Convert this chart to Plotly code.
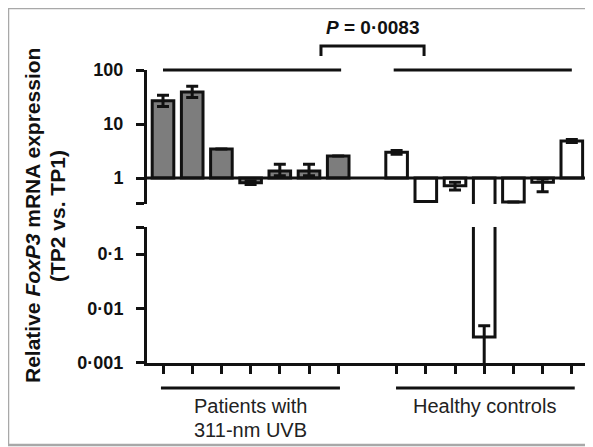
import plotly.graph_objects as go

# ---------------- data ----------------
patients = [27, 39, 3.45, 0.82, 1.35, 1.35, 2.55]
patients_err_plus = [7, 11, 0, 0.06, 0.45, 0.45, 0]
patients_err_minus = [6, 8, 0, 0.06, 0.25, 0.25, 0]

controls = [3.0, 0.37, 0.72, 0.003, 0.36, 0.84, 4.85]
controls_err_plus = [0.25, 0, 0.12, 0.0018, 0, 0.12, 0.3]
controls_err_minus = [0.25, 0, 0.12, 0.0029, 0, 0.28, 0.3]

group_labels = ["Patients with", "311-nm UVB", "Healthy controls"]
upper_ticks = [1, 10, 100]
upper_ticktext = ["1", "10", "100"]
lower_ticks = [0.001, 0.01, 0.1]
lower_ticktext = ["0·001", "0·01", "0·1"]
p_text = "<i>P</i> = 0·0083"
y_title_1 = "Relative <i>FoxP3</i> mRNA expression"
y_title_2 = "(TP2 vs. TP1)"

# positions (categories) : patients 0..6, gap, controls 8..14
x_pat = list(range(len(patients)))
x_hc = [len(patients) + 1 + i for i in range(len(controls))]

# ---------------- layout geometry ----------------
OFF = 8                      # default page body margin
W, H = 593 - OFF, 447 - OFF
ML, MT = 147 - OFF, 70 - OFF
MR = W - (587 - OFF)
MB = H - (363 - OFF)
PW, PH = W - ML - MR, H - MT - MB

def px_x(px):               # page pixel -> paper coordinate
    return (px - OFF - ML) / PW

def px_y(py):
    return (H - MB - (py - OFF)) / PH

FONT = "Liberation Sans, Arial, Helvetica, sans-serif"
BLACK = "#111111"
GREY = "#7d7d7d"
LW = 3

up_lo, up_hi = -0.48, 2.0     # upper axis: log10 range, top = 100
lo_lo, lo_hi = -3.0, -0.5

fig = go.Figure()

def add_bars(xs, vals, ep, em, fill, yaxis):
    fig.add_trace(go.Bar(
        x=xs, y=[v - 1 for v in vals], base=[1] * len(vals),
        width=0.74, marker=dict(color=fill, line=dict(color=BLACK, width=3)),
        error_y=dict(type="data", array=ep, arrayminus=em, symmetric=False,
                     color=BLACK, thickness=3, width=6),
        yaxis=yaxis, xaxis="x", showlegend=False, hoverinfo="skip"))

for ya in ["y", "y2"]:
    add_bars(x_pat, patients, patients_err_plus, patients_err_minus, GREY, ya)
    add_bars(x_hc, controls, controls_err_plus, controls_err_minus, "white", ya)

xr = [-0.548, 14.52]
# baseline at 1
fig.add_trace(go.Scatter(x=xr, y=[1, 1], mode="lines", line=dict(color=BLACK, width=LW),
                         yaxis="y", xaxis="x", showlegend=False, hoverinfo="skip"))

tickfont = dict(size=18, family=FONT, color=BLACK, weight="bold")
fig.update_layout(
    width=W, height=H,
    margin=dict(l=ML, r=MR, t=MT, b=MB, pad=0, autoexpand=False),
    paper_bgcolor="white", plot_bgcolor="white",
    font=dict(family=FONT, color=BLACK),
    xaxis=dict(range=xr, anchor="y2", showgrid=False, zeroline=False,
               showline=True, linecolor=BLACK, linewidth=LW,
               tickvals=x_pat + x_hc, ticktext=[""] * (len(x_pat) + len(x_hc)),
               ticks="outside", ticklen=8, tickwidth=LW, tickcolor=BLACK),
    yaxis=dict(type="log", range=[up_lo, up_hi], domain=[px_y(204), 1], anchor="x",
               showgrid=False, zeroline=False, showline=True, linecolor=BLACK, linewidth=LW,
               tickvals=[10 ** (up_lo + 0.002)] + upper_ticks,
               ticktext=[""] + upper_ticktext,
               ticks="outside", ticklen=8, tickwidth=LW, tickcolor=BLACK,
               ticklabelstandoff=9, tickfont=tickfont),
    yaxis2=dict(type="log", range=[lo_lo - 0.002, lo_hi], domain=[0, px_y(227)], anchor="x",
                showgrid=False, zeroline=False, showline=True, linecolor=BLACK, linewidth=LW,
                tickvals=lower_ticks + [10 ** (lo_hi - 0.002)],
                ticktext=lower_ticktext + [""],
                ticks="outside", ticklen=8, tickwidth=LW, tickcolor=BLACK,
                ticklabelstandoff=9, tickfont=tickfont),
)

shapes = []
# outer grey frame
shapes.append(dict(type="rect", xref="paper", yref="paper",
                   x0=px_x(8), x1=px_x(620), y0=px_y(445), y1=px_y(8),
                   line=dict(color="#a8a8a8", width=2.5)))
# top group lines at level 100 (= top of upper axis)
for x0, x1 in [(x_pat[0], x_pat[-1] + 0.1), (x_hc[0] - 0.1, x_hc[-1])]:
    shapes.append(dict(type="line", xref="x", yref="paper", x0=x0, x1=x1,
                       y0=1, y1=1, line=dict(color=BLACK, width=LW)))
# bottom group lines
for x0, x1 in [(x_pat[0] - 0.07, x_pat[-1] + 0.06), (x_hc[0] - 0.02, x_hc[-1] + 0.1)]:
    shapes.append(dict(type="line", xref="x", yref="paper", x0=x0, x1=x1,
                       y0=px_y(388), y1=px_y(388), line=dict(color=BLACK, width=LW)))
# P bracket
bx0, bx1 = x_pat[-1] - 0.59, x_hc[0] + 0.94
shapes.append(dict(type="path", xref="x", yref="paper",
                   path=f"M {bx0},{px_y(56)} L {bx0},{px_y(46)} L {bx1},{px_y(46)} L {bx1},{px_y(56)}",
                   line=dict(color=BLACK, width=LW)))
fig.update_layout(shapes=shapes)

lab_font = dict(size=20, family=FONT, color="#222")
ann = []
ann.append(dict(text=p_text, xref="x", yref="paper", x=(bx0 + bx1) / 2, y=px_y(27),
                showarrow=False, xanchor="center", yanchor="middle",
                font=dict(size=19, family=FONT, color=BLACK, weight="bold")))
ann.append(dict(text=group_labels[0], xref="x", yref="paper",
                x=sum(x_pat) / len(x_pat), y=px_y(406), showarrow=False,
                xanchor="center", yanchor="middle", font=lab_font))
ann.append(dict(text=group_labels[1], xref="x", yref="paper",
                x=sum(x_pat) / len(x_pat), y=px_y(430), showarrow=False,
                xanchor="center", yanchor="middle", font=lab_font))
ann.append(dict(text=group_labels[2], xref="x", yref="paper",
                x=sum(x_hc) / len(x_hc), y=px_y(406), showarrow=False,
                xanchor="center", yanchor="middle", font=lab_font))
ann.append(dict(text=y_title_1, xref="paper", yref="paper", x=px_x(32), y=px_y(216),
                textangle=-90, showarrow=False, xanchor="center", yanchor="middle",
                font=dict(size=21, family=FONT, color=BLACK, weight="bold")))
ann.append(dict(text=y_title_2, xref="paper", yref="paper", x=px_x(57), y=px_y(216),
                textangle=-90, showarrow=False, xanchor="center", yanchor="middle",
                font=dict(size=21, family=FONT, color=BLACK, weight="bold")))
fig.update_layout(annotations=ann)

fig.write_html("out.html")
